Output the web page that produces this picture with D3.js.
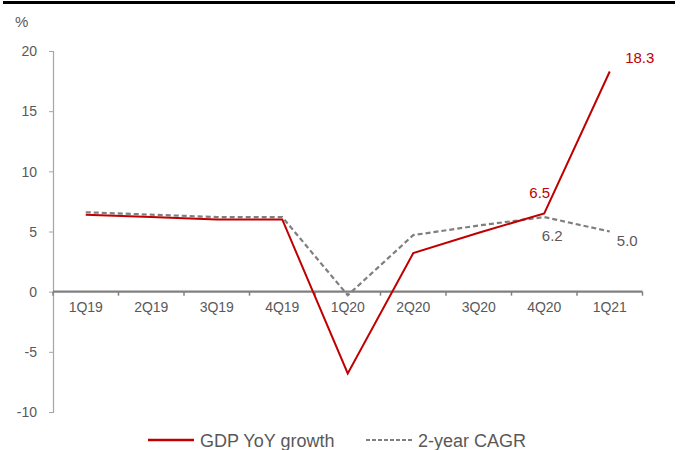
<!DOCTYPE html>
<html>
<head>
<meta charset="utf-8">
<script src="https://cdn.jsdelivr.net/npm/d3@7"></script>
<style>
  html, body { margin: 0; padding: 0; background: #fff; }
  svg { display: block; font-family: "Liberation Sans", Arial, sans-serif; }
</style>
</head>
<body>
<svg id="chart" width="680" height="450"></svg>
<script>
// Quarterly China GDP growth, % YoY, and the 2-year compound annual growth rate
const quarters = ["1Q19", "2Q19", "3Q19", "4Q19", "1Q20", "2Q20", "3Q20", "4Q20", "1Q21"];
const gdpYoY = [6.4, 6.2, 6.0, 6.0, -6.8, 3.2, 4.9, 6.5, 18.3];
const cagr2y = [6.6, 6.4, 6.2, 6.2, -0.3, 4.7, 5.5, 6.2, 5.0];
const yTicks = [-10, -5, 0, 5, 10, 15, 20];
const seriesNames = ["GDP YoY growth", "2-year CAGR"];

const RED = "#c00000";
const GREY = "#7f7f7f";
const TEXT = "#595959";
const FONT = "Liberation Sans, Arial, sans-serif";

const svg = d3.select("#chart");

// frame rule across the top
svg.append("rect").attr("x", 3).attr("y", 1).attr("width", 672).attr("height", 3).attr("fill", "#000");

const x = d3.scaleBand().domain(quarters).range([53, 642.5]);
const y = d3.scaleLinear().domain([-10, 20]).range([412, 51]);

// y axis (plain hyphen for negatives)
const yAxis = svg.append("g")
  .attr("transform", "translate(53,0)")
  .call(d3.axisLeft(y).tickValues(yTicks).tickSize(4).tickPadding(12).tickFormat(d => String(d)));
yAxis.select(".domain").attr("stroke", "#a6a6a6").attr("stroke-width", 1.2);
yAxis.selectAll(".tick line").attr("stroke", "#a6a6a6");
yAxis.selectAll("text").attr("fill", TEXT).attr("font-size", 14).attr("font-family", FONT).attr("dy", "0.34em");

svg.append("text").attr("x", 15).attr("y", 27).attr("fill", TEXT).attr("font-size", 15).attr("font-family", FONT).text("%");

// category axis along zero
const xAxis = svg.append("g")
  .attr("transform", `translate(0,${y(0)})`)
  .call(d3.axisBottom(x).tickSize(0).tickPadding(10));
xAxis.select(".domain").remove();
xAxis.selectAll("text").attr("fill", TEXT).attr("font-size", 14).attr("font-family", FONT);
svg.append("line")
  .attr("x1", x.range()[0]).attr("x2", x.range()[1])
  .attr("y1", y(0)).attr("y2", y(0))
  .attr("stroke", "#808080").attr("stroke-width", 2.2);
const bounds = quarters.map(q => x(q)).concat([x.range()[1]]);
svg.append("g").selectAll("line").data(bounds).join("line")
  .attr("x1", d => d).attr("x2", d => d)
  .attr("y1", y(0)).attr("y2", y(0) + 4)
  .attr("stroke", "#808080").attr("stroke-width", 1.5);

const cx = q => x(q) + x.bandwidth() / 2;
const line = d3.line().x((d, i) => cx(quarters[i])).y(d => y(d));

svg.append("path").datum(cagr2y).attr("d", line)
  .attr("fill", "none").attr("stroke", GREY).attr("stroke-width", 2.2).attr("stroke-dasharray", "5,3");
svg.append("path").datum(gdpYoY).attr("d", line)
  .attr("fill", "none").attr("stroke", RED).attr("stroke-width", 2);

// value labels for the latest points
const last = quarters.length - 1;
const labels = [
  { v: gdpYoY[last], q: last, dx: 30, dy: -8.5, c: RED },
  { v: gdpYoY[last - 1], q: last - 1, dx: -4.5, dy: -15.5, c: RED },
  { v: cagr2y[last - 1], q: last - 1, dx: 8, dy: 23.5, c: TEXT },
  { v: cagr2y[last], q: last, dx: 17.5, dy: 14, c: TEXT }
];
svg.append("g").selectAll("text").data(labels).join("text")
  .attr("x", d => cx(quarters[d.q]) + d.dx)
  .attr("y", d => y(d.v) + d.dy)
  .attr("text-anchor", "middle")
  .attr("fill", d => d.c)
  .attr("font-size", 15)
  .attr("font-family", FONT)
  .text(d => d.v.toFixed(1));

// legend
const lg = svg.append("g").attr("transform", "translate(0,440)");
lg.append("line").attr("x1", 148).attr("x2", 194).attr("y1", 0).attr("y2", 0)
  .attr("stroke", RED).attr("stroke-width", 2.5);
lg.append("text").attr("x", 200).attr("y", 6.5).attr("fill", TEXT).attr("font-size", 18).attr("font-family", FONT).text(seriesNames[0]);
lg.append("line").attr("x1", 366).attr("x2", 412).attr("y1", 0).attr("y2", 0)
  .attr("stroke", GREY).attr("stroke-width", 2).attr("stroke-dasharray", "4,2");
lg.append("text").attr("x", 418).attr("y", 6.5).attr("fill", TEXT).attr("font-size", 18).attr("font-family", FONT).text(seriesNames[1]);
</script>
</body>
</html>
